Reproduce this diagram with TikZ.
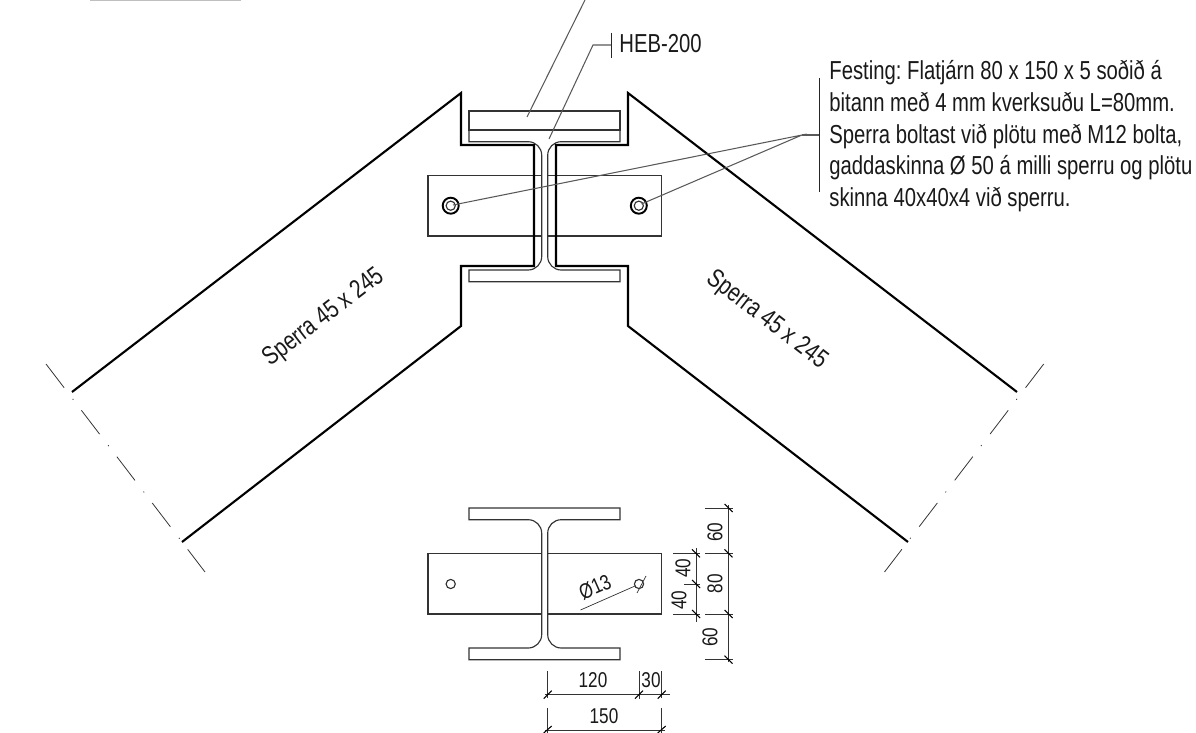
\documentclass[tikz,border=0pt]{standalone}
\usepackage{fontspec}
\setmainfont[FakeStretch=0.78]{Liberation Sans}
\newfontfamily\dimfont[FakeStretch=0.8]{Liberation Sans}

\begin{document}
\frenchspacing
\begin{tikzpicture}[x=0.02cm,y=0.02cm]
    \tikzstyle{every node}+=[inner sep=0pt]
    \tikzstyle{rafter}=[black,line width=1.2pt]
    \tikzstyle{steel}=[black!80,line width=0.65pt]
    \tikzstyle{leader}=[black!65,line width=0.6pt]
    \tikzstyle{dimline}=[black!80,line width=0.4pt]
    \tikzstyle{tick}=[black,line width=0.6pt]
    \tikzstyle{breakline}=[black!80,line width=0.45pt,dash pattern=on 17pt off 8pt on 0.6pt off 7.6pt]
    \tikzstyle{label}=[font=\fontsize{14.8}{18}\selectfont,black!90]
    \tikzstyle{dimtext}=[font=\dimfont\fontsize{12.2}{14}\selectfont,black!90]
    \useasboundingbox (0,0) rectangle (1196,-733);
    \draw [black!25,line width=0.6pt] (90,0) -- (241,0);
    \draw [steel] (428,-175.5) rectangle (661.7,-236);
    \draw [steel,fill=white] (469,-130) -- (620,-130) -- (620,-141.7) -- (561.2,-141.7) arc (90:180:13.5) -- (547.7,-256.5) arc (180:270:13.5) -- (620,-270) -- (620,-281.7) -- (469,-281.7) -- (469,-270) -- (528.2,-270) arc (-90:0:13.5) -- (541.7,-155.2) arc (0:90:13.5) -- (469,-141.7) -- cycle;
    \draw [steel] (469,-111) rectangle (620,-130);
    \draw [rafter,line join=miter] (72,-392) -- (461,-93) -- (461,-145) -- (534,-145) -- (534,-266) -- (461,-266) -- (461,-326) -- (182,-542);
    \draw [rafter,line join=miter] (1017,-392) -- (628,-93) -- (628,-145) -- (556,-145) -- (556,-266) -- (628,-266) -- (628,-326) -- (908,-542);
    \draw [breakline] (46,-364) -- (205,-572);
    \draw [breakline] (1043.7,-364) -- (884.5,-572);
    \draw [black,line width=1.1pt] (450.7,-205.7) circle (8);
    \draw [steel] (450.7,-205.7) circle (4.6);
    \draw [black,line width=1.1pt] (638.8,-205.7) circle (8);
    \draw [steel] (638.8,-205.7) circle (4.6);
    \coordinate (boltL) at (453,-205);
    \coordinate (boltR) at (641.5,-204);
    \coordinate (hub) at (802,-135);
    \coordinate (barFest) at (819,-135);
    \draw [leader] (boltL) -- (hub) -- (boltR);
    \draw [leader] (hub) -- (barFest);
    \draw [black!85,line width=0.5pt] (819,-78) -- (819,-192);
    \node [label,anchor=base west] (festA) at (829,-79.3) {Festing: Flatjárn 80 x 150 x 5 soðið á};
    \node [label,anchor=base west] (festB) at (829,-111.5) {bitann með 4 mm kverksuðu L=80mm.};
    \node [label,anchor=base west] (festC) at (829,-143.3) {Sperra boltast við plötu með M12 bolta,};
    \node [label,anchor=base west] (festD) at (829,-175) {gaddaskinna Ø 50 á milli sperru og plötu};
    \node [label,anchor=base west] (festE) at (829,-206.7) {skinna 40x40x4 við sperru.};
    \coordinate (topA) at (585,0);
    \coordinate (topB) at (527,-117);
    \draw [leader] (topA) -- (topB);
    \coordinate (hebA) at (549,-139);
    \coordinate (hebB) at (593,-45);
    \coordinate (hebC) at (611,-45);
    \draw [leader] (hebA) -- (hebB) -- (hebC);
    \draw [black!85,line width=0.5pt] (611,-33) -- (611,-58);
    \node [label,anchor=base west] (heb) at (619,-52.7) {HEB-200};
    \node [label,rotate=37.5] (sperraL) at (324,-318) {Sperra 45 x 245};
    \node [label,rotate=-37.5] (sperraR) at (767,-320) {Sperra 45 x 245};
    \draw [steel] (428,-553.3) rectangle (661.7,-614);
    \draw [steel,fill=white] (469,-508) -- (620,-508) -- (620,-519.7) -- (561.2,-519.7) arc (90:180:13.5) -- (547.7,-634.5) arc (180:270:13.5) -- (620,-648) -- (620,-659.7) -- (469,-659.7) -- (469,-648) -- (528.2,-648) arc (-90:0:13.5) -- (541.7,-533.2) arc (0:90:13.5) -- (469,-519.7) -- cycle;
    \draw [steel] (450.7,-584) circle (4.6);
    \draw [steel] (639,-584) circle (4.6);
    \coordinate (holeA) at (580.5,-610);
    \coordinate (holeB) at (635,-586);
    \draw [dimline] (holeA) -- (holeB);
    \draw [dimline] (637,-593) -- (646,-576);
    \node [dimtext,rotate=24] (holeText) at (595,-587) {Ø13};
    \draw [dimline] (728.5,-505) -- (728.5,-662);
    \draw [dimline] (705,-508) -- (733,-508);
    \draw [dimline] (705,-553.3) -- (733,-553.3);
    \draw [dimline] (705,-614) -- (733,-614);
    \draw [dimline] (705,-659.7) -- (733,-659.7);
    \draw [tick] (724.5,-504) -- (732.5,-512);
    \draw [tick] (724.5,-549.3) -- (732.5,-557.3);
    \draw [tick] (724.5,-610) -- (732.5,-618);
    \draw [tick] (724.5,-655.7) -- (732.5,-663.7);
    \draw [dimline] (696,-548) -- (696,-622);
    \draw [dimline] (673,-553.3) -- (700,-553.3);
    \draw [dimline] (684,-584) -- (700,-584);
    \draw [dimline] (673,-614) -- (700,-614);
    \draw [tick] (692,-549.3) -- (700,-557.3);
    \draw [tick] (692,-580) -- (700,-588);
    \draw [tick] (692,-610) -- (700,-618);
    \node [dimtext,rotate=90] (dimA) at (715,-532) {60};
    \node [dimtext,rotate=90] (dimB) at (715,-583.5) {80};
    \node [dimtext,rotate=90] (dimC) at (710,-637) {60};
    \node [dimtext,rotate=90] (dimD) at (683,-568) {40};
    \node [dimtext,rotate=90] (dimE) at (679,-600) {40};
    \draw [dimline] (545,-694.7) -- (669.5,-694.7);
    \draw [dimline] (547.7,-671) -- (547.7,-698);
    \draw [dimline] (639,-671) -- (639,-699);
    \draw [dimline] (661.7,-671) -- (661.7,-698);
    \draw [tick] (543.7,-698.7) -- (551.7,-690.7);
    \draw [tick] (635,-698.7) -- (643,-690.7);
    \draw [tick] (657.7,-698.7) -- (665.7,-690.7);
    \node [dimtext] (dimF) at (593,-680.5) {120};
    \node [dimtext] (dimG) at (651,-680.5) {30};
    \draw [dimline] (545,-730) -- (665,-730);
    \draw [dimline] (547.7,-708) -- (547.7,-733);
    \draw [dimline] (661.7,-708) -- (661.7,-733);
    \draw [tick] (543.7,-733) -- (551.7,-726);
    \draw [tick] (657.7,-733) -- (665.7,-726);
    \node [dimtext] (dimH) at (604,-716) {150};
\end{tikzpicture}
\end{document}
